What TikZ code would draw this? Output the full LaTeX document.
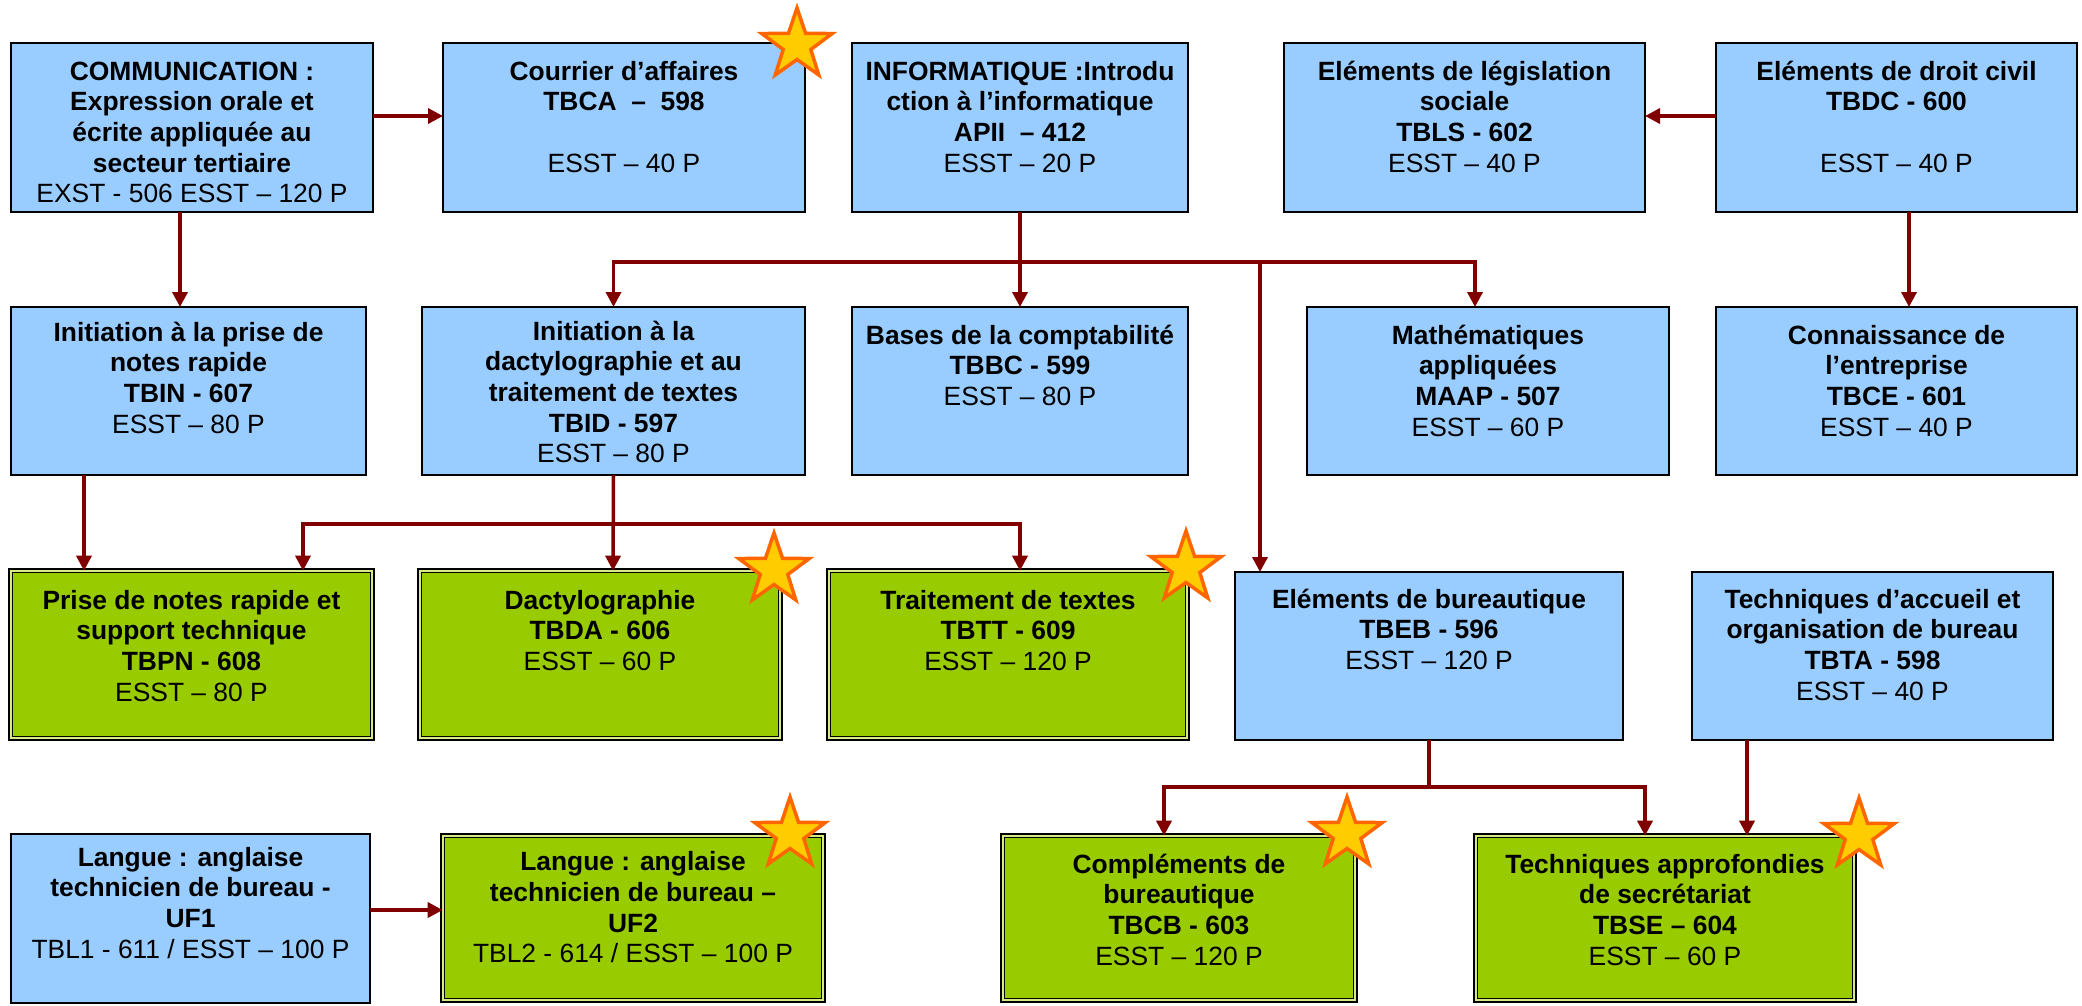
\documentclass[tikz,border=0pt]{standalone}
\usepackage{fontspec}
\setmainfont{Liberation Sans}
\usetikzlibrary{arrows.meta,shapes.geometric}
\definecolor{bluefill}{HTML}{99CCFF}
\definecolor{greenfill}{HTML}{99CC00}
\definecolor{greengap}{HTML}{D6EB85}
\definecolor{arrowred}{HTML}{800000}
\definecolor{starfill}{HTML}{FFCC00}
\definecolor{starline}{HTML}{FF6600}
\newcommand{\bt}[4]{\parbox[c][#2pt][t]{#1pt}{\centering\rule{0pt}{#3pt}#4}}
\begin{document}
\begin{tikzpicture}[x=1pt,y=-1pt,
 every node/.style={font=\fontsize{26.4}{30.7}\selectfont, inner sep=0pt, outer sep=0pt},
 bluebox/.style={draw=black, line width=2pt, fill=bluefill, anchor=north west},
 greenbox/.style={draw=black, line width=1.8pt, double=greengap, double distance=1.8pt, fill=greenfill, anchor=north west},
 conn/.style={draw=arrowred, line width=3.5pt, -{Triangle[length=15pt,width=15pt]}},
 starmark/.style={star, star points=5, star point ratio=2.55, minimum size=74pt, fill=starfill, draw=starline, line width=3.5pt}
]
\useasboundingbox (0,0) rectangle (2082,1005);

% ---------- row 1 ----------
\node[bluebox] (comm) at (11,43) {\bt{362}{169}{37}{{\bfseries COMMUNICATION :\\Expression orale et\\écrite appliquée au\\secteur tertiaire}\\EXST - 506 ESST – 120 P}};
\node[bluebox] (courrier) at (443,43) {\bt{362}{169}{37}{{\bfseries Courrier d’affaires\\TBCA\ \ –\ \ 598}\\~\\ESST – 40 P}};
\node[bluebox] (info) at (852,43) {\bt{336}{169}{37}{{\bfseries INFORMATIQUE :Introdu\\ction à l’informatique\\APII\ \ – 412}\\ESST – 20 P}};
\node[bluebox] (legis) at (1284,43) {\bt{361}{169}{37}{{\bfseries Eléments de législation\\sociale\\TBLS - 602}\\ESST – 40 P}};
\node[bluebox] (droit) at (1716,43) {\bt{361}{169}{37}{{\bfseries Eléments de droit civil\\TBDC - 600}\\~\\ESST – 40 P}};

% ---------- row 2 ----------
\node[bluebox] (initA) at (11,307) {\bt{355}{168}{34}{{\bfseries Initiation à la prise de\\notes rapide\\TBIN - 607}\\ESST – 80 P}};
\node[bluebox] (initB) at (422,307) {\bt{383}{168}{33}{{\bfseries Initiation à la\\dactylographie et au\\traitement de textes\\TBID - 597}\\ESST – 80 P}};
\node[bluebox] (bases) at (852,307) {\bt{336}{168}{37}{{\bfseries Bases de la comptabilité\\TBBC - 599}\\ESST – 80 P}};
\node[bluebox] (math) at (1307,307) {\bt{362}{168}{37}{{\bfseries Mathématiques\\appliquées\\MAAP - 507}\\ESST – 60 P}};
\node[bluebox] (conn) at (1716,307) {\bt{361}{168}{37}{{\bfseries Connaissance de\\l’entreprise\\TBCE - 601}\\ESST – 40 P}};

% ---------- row 3 ----------
\node[greenbox] (pn) at (10.7,570.7) {\bt{361.6}{167.6}{38.3}{{\bfseries Prise de notes rapide et\\support technique\\TBPN - 608}\\ESST – 80 P}};
\node[greenbox] (da) at (419.7,570.7) {\bt{360.6}{167.6}{38.3}{{\bfseries Dactylographie\\TBDA - 606}\\ESST – 60 P}};
\node[greenbox] (tt) at (828.7,570.7) {\bt{358.6}{167.6}{38.3}{{\bfseries Traitement de textes\\TBTT - 609}\\ESST – 120 P}};
\node[bluebox] (eb) at (1235,572) {\bt{388}{168}{36}{{\bfseries Eléments de bureautique\\TBEB - 596}\\ESST – 120 P}};
\node[bluebox] (ta) at (1692,572) {\bt{361}{168}{36}{{\bfseries Techniques d’accueil et\\organisation de bureau\\TBTA - 598}\\ESST – 40 P}};

% ---------- row 4 ----------
\node[bluebox] (l1) at (11,834) {\bt{359}{169}{32}{{\bfseries Langue : anglaise\\technicien de bureau -\\UF1}\\TBL1 - 611 / ESST – 100 P}};
\node[greenbox] (l2) at (442.7,835.7) {\bt{380.6}{164.6}{35}{{\bfseries Langue : anglaise\\technicien de bureau –\\UF2}\\TBL2 - 614 / ESST – 100 P}};
\node[greenbox] (cb) at (1002.7,835.7) {\bt{352.6}{164.6}{37.3}{{\bfseries Compléments de\\bureautique\\TBCB - 603}\\ESST – 120 P}};
\node[greenbox] (sa) at (1475.7,835.7) {\bt{378.6}{164.6}{37.3}{{\bfseries Techniques approfondies\\de secrétariat\\TBSE – 604}\\ESST – 60 P}};

% ---------- helper coordinates ----------
\coordinate (y116) at (0,116);
\coordinate (y910) at (0,910);
\coordinate (x84) at (84,0);
\coordinate (x180) at (180,0);
\coordinate (x1909) at (1909,0);
\coordinate (x1747) at (1747,0);
\coordinate (infoJ) at (1020,262);
\coordinate (infoR) at (1475,262);
\coordinate (infoE) at (1260,262);
\coordinate (daL) at (303,524);
\coordinate (daJ) at (613,524);
\coordinate (daR) at (1020,524);
\coordinate (ebJ) at (1429,787);
\coordinate (ebL) at (1164,787);
\coordinate (ebR) at (1645,787);

% ---------- connectors ----------
\draw[conn] (comm.east |- y116) -- (courrier.west |- y116);
\draw[conn] (droit.west |- y116) -- (legis.east |- y116);
\draw[conn] (comm.south -| x180) -- (initA.north -| x180);
\draw[conn] (droit.south -| x1909) -- (conn.north -| x1909);

\draw[conn] (info.south) -- (bases.north);
\draw[conn] (infoJ) -| (initB.north);
\draw[conn] (infoJ) -| (math.north -| infoR);
\draw[conn] (infoE) -- (eb.north -| infoE);

\draw[conn] (initA.south -| x84) -- (pn.north -| x84);
\draw[conn] (initB.south) -- (da.north -| daJ);
\draw[conn] (daJ) -| (pn.north -| daL);
\draw[conn] (daJ) -| (tt.north -| daR);

\draw[conn] (eb.south) |- (ebL) -- (cb.north -| ebL);
\draw[conn] (ebJ) -| (sa.north -| ebR);
\draw[conn] (ta.south -| x1747) -- (sa.north -| x1747);
\draw[conn] (l1.east |- y910) -- (l2.west |- y910);

% ---------- stars ----------
\node[starmark] (s1) at (797,45) {};
\node[starmark] (s2) at (774,570) {};
\node[starmark] (s3) at (1186,568) {};
\node[starmark] (s4) at (790,834) {};
\node[starmark] (s5) at (1347,834) {};
\node[starmark] (s6) at (1859,835) {};
\end{tikzpicture}
\end{document}
